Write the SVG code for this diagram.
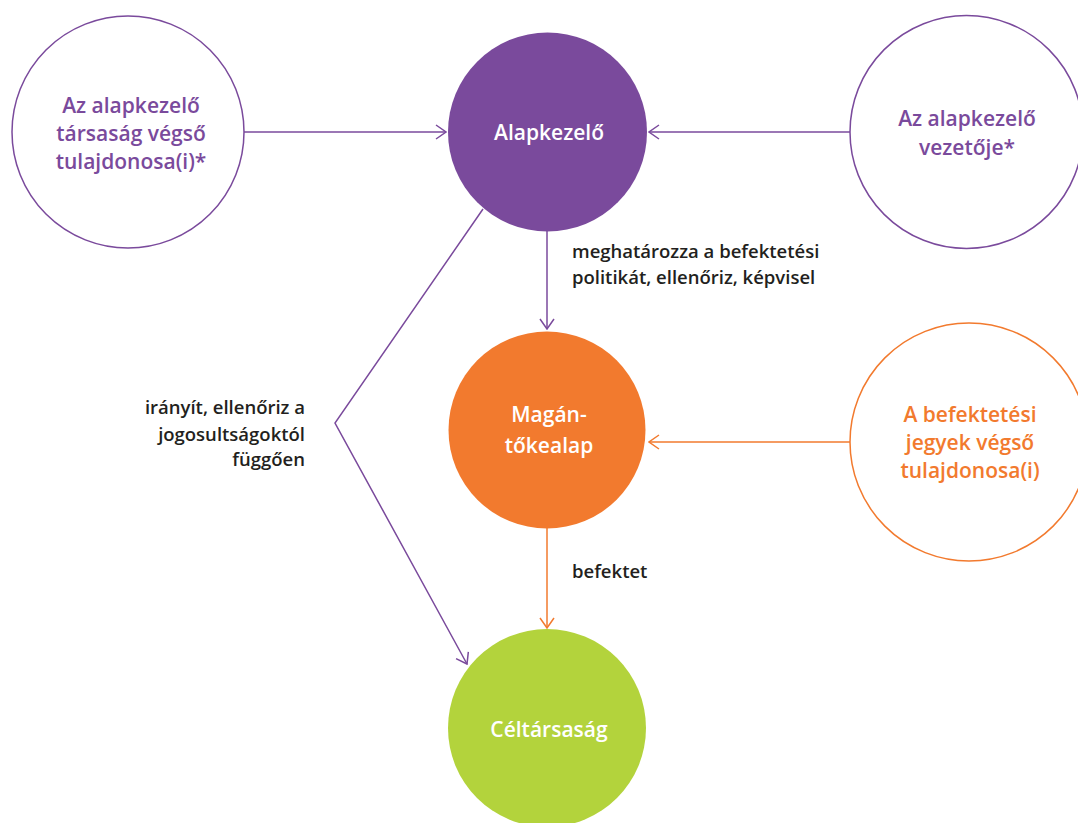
<svg xmlns="http://www.w3.org/2000/svg" width="1078" height="823" viewBox="0 0 1078 823">
<defs>
<style>
.t{font-family:"Open Sans","Liberation Sans",sans-serif;font-weight:600;}
.node{font-size:21px;text-anchor:middle;}
.lbl{font-size:18.5px;fill:#231f20;}
.p{fill:#7a4a9c;}
.o{fill:#f27a2e;}
.w{fill:#ffffff;}
.lp{stroke:#7a4a9c;stroke-width:1.5;fill:none;}
.lo{stroke:#f27a2e;stroke-width:1.5;fill:none;}
</style>
<marker id="ap" viewBox="0 0 12 16" refX="11" refY="8" markerWidth="12" markerHeight="16" markerUnits="userSpaceOnUse" orient="auto">
<path d="M1,1 L11,8 L1,15" fill="none" stroke="#7a4a9c" stroke-width="1.5"/>
</marker>
<marker id="ao" viewBox="0 0 12 16" refX="11" refY="8" markerWidth="12" markerHeight="16" markerUnits="userSpaceOnUse" orient="auto">
<path d="M1,1 L11,8 L1,15" fill="none" stroke="#f27a2e" stroke-width="1.5"/>
</marker>
</defs>
<rect width="1078" height="823" fill="#ffffff"/>
<g id="connectors">
<line class="lp" x1="244" y1="132" x2="446" y2="132" marker-end="url(#ap)"/>
<line class="lp" x1="850" y1="132" x2="649" y2="132" marker-end="url(#ap)"/>
<line class="lp" x1="547" y1="231" x2="547" y2="329" marker-end="url(#ap)"/>
<polyline class="lp" points="483,209 335,423 467,664" marker-end="url(#ap)"/>
<line class="lo" x1="850" y1="442" x2="649" y2="442" marker-end="url(#ao)"/>
<line class="lo" x1="547" y1="528" x2="547" y2="628" marker-end="url(#ao)"/>
<text class="t lbl" x="572" y="258">meghatározza a befektetési</text>
<text class="t lbl" x="572" y="284">politikát, ellenőriz, képvisel</text>
<text class="t lbl" x="305" y="414" text-anchor="end">irányít, ellenőriz a</text>
<text class="t lbl" x="305" y="441" text-anchor="end">jogosultságoktól</text>
<text class="t lbl" x="305" y="466" text-anchor="end">függően</text>
<text class="t lbl" x="572" y="578">befektet</text>
</g>
<g id="node-owner">
<circle cx="128" cy="132" r="116" fill="#ffffff" stroke="#7a4a9c" stroke-width="1.5"/>
<text class="t node p" x="131" y="113">Az alapkezelő</text>
<text class="t node p" x="131" y="141">társaság végső</text>
<text class="t node p" x="131" y="169">tulajdonosa(i)*</text>
</g>
<g id="node-alapkezelo">
<circle cx="547.5" cy="132" r="99.5" fill="#7a4a9c"/>
<text class="t node w" x="549" y="140">Alapkezelő</text>
</g>
<g id="node-vezeto">
<circle cx="966.5" cy="132" r="116.5" fill="#ffffff" stroke="#7a4a9c" stroke-width="1.5"/>
<text class="t node p" x="967" y="126">Az alapkezelő</text>
<text class="t node p" x="967" y="155">vezetője*</text>
</g>
<g id="node-magan">
<circle cx="547" cy="430" r="98.5" fill="#f27a2e"/>
<text class="t node w" x="549" y="422">Magán-</text>
<text class="t node w" x="549" y="453">tőkealap</text>
</g>
<g id="node-befektetok">
<circle cx="969" cy="442" r="119" fill="#ffffff" stroke="#f27a2e" stroke-width="1.5"/>
<text class="t node o" x="970" y="422">A befektetési</text>
<text class="t node o" x="970" y="450">jegyek végső</text>
<text class="t node o" x="970" y="478">tulajdonosa(i)</text>
</g>
<g id="node-celtarsasag">
<circle cx="547" cy="728" r="99" fill="#b3d33c"/>
<text class="t node w" x="549" y="737">Céltársaság</text>
</g>
</svg>
